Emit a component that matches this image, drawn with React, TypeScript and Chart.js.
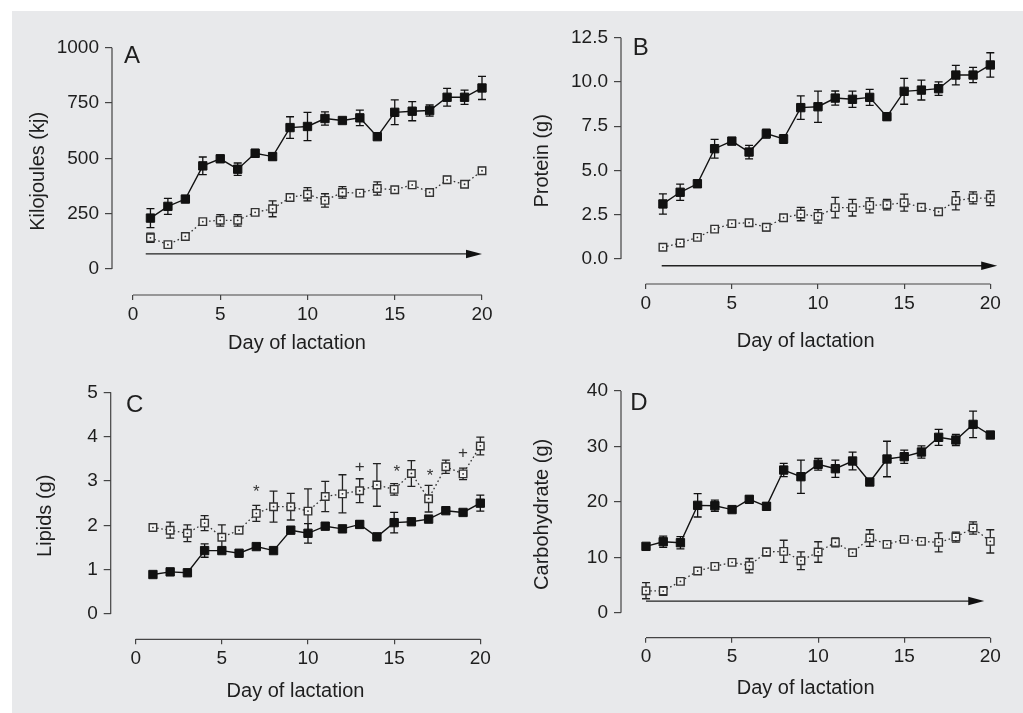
import React, { useEffect, useRef } from "react";
import { Chart, registerables } from "chart.js";

Chart.register(...registerables);

const FONT = "'Liberation Sans', Arial, Helvetica, sans-serif";
const TEXT = "#1e1e1e";
const AXIS = "#444444";
const BG = "#e8e9eb";

// ---------- data ----------
const days1to20 = [1, 2, 3, 4, 5, 6, 7, 8, 9, 10, 11, 12, 13, 14, 15, 16, 17, 18, 19, 20];
const days0to20 = [0, 1, 2, 3, 4, 5, 6, 7, 8, 9, 10, 11, 12, 13, 14, 15, 16, 17, 18, 19, 20];
const xTickValues = [0, 5, 10, 15, 20];

const kjFilled = [230, 283, 316, 466, 498, 451, 523, 508, 639, 644, 680, 671, 683, 598, 708, 713, 716, 776, 776, 818];
const kjFilledErr = [43, 36, 12, 40, 15, 28, 18, 15, 49, 64, 30, 8, 35, 0, 56, 43, 25, 40, 32, 52];
const kjOpen = [141, 110, 147, 214, 220, 220, 256, 272, 323, 338, 310, 346, 343, 364, 358, 380, 346, 403, 383, 444];
const kjOpenErr = [21, 8, 8, 8, 26, 26, 12, 36, 15, 30, 30, 26, 8, 30, 10, 10, 10, 15, 10, 15];
const kjTicks = [0, 250, 500, 750, 1000];

const proteinFilled = [3.11, 3.77, 4.25, 6.23, 6.66, 6.04, 7.08, 6.78, 8.55, 8.6, 9.09, 9.02, 9.13, 8.04, 9.47, 9.54, 9.62, 10.39, 10.39, 10.96];
const proteinFilledErr = [0.57, 0.46, 0.2, 0.53, 0.2, 0.38, 0.25, 0.25, 0.66, 0.88, 0.4, 0.46, 0.45, 0.2, 0.73, 0.56, 0.38, 0.55, 0.43, 0.69];
const proteinOpen = [0.66, 0.9, 1.22, 1.69, 2.0, 2.05, 1.79, 2.33, 2.54, 2.41, 2.9, 2.9, 3.03, 3.07, 3.18, 2.92, 2.67, 3.29, 3.45, 3.43];
const proteinOpenErr = [0, 0, 0, 0, 0, 0.1, 0.2, 0, 0.38, 0.38, 0.58, 0.47, 0.42, 0.3, 0.48, 0.2, 0.15, 0.52, 0.34, 0.42];
const proteinTicks = [0, 2.5, 5, 7.5, 10, 12.5];

const lipidFilled = [0.89, 0.95, 0.93, 1.43, 1.43, 1.37, 1.52, 1.43, 1.89, 1.82, 1.98, 1.92, 2.02, 1.74, 2.06, 2.08, 2.14, 2.33, 2.29, 2.5];
const lipidFilledErr = [0, 0, 0, 0.15, 0, 0, 0, 0, 0, 0.22, 0, 0, 0.08, 0, 0.23, 0, 0, 0, 0, 0.18];
const lipidOpen = [1.95, 1.89, 1.82, 2.05, 1.73, 1.89, 2.27, 2.42, 2.42, 2.32, 2.65, 2.71, 2.78, 2.91, 2.81, 3.17, 2.6, 3.32, 3.16, 3.79];
const lipidOpenErr = [0, 0.18, 0.19, 0.17, 0.28, 0, 0.18, 0.35, 0.3, 0.5, 0.34, 0.43, 0.27, 0.48, 0.13, 0.29, 0.3, 0.15, 0.13, 0.2];
const lipidTicks = [0, 1, 2, 3, 4, 5];
const lipidMarkText = ["*", "+", "*", "*", "+"];
const lipidMarkDays = [7, 13, 15.15, 17.08, 19];
const lipidMarkValues = [2.85, 3.34, 3.32, 3.23, 3.65];

const carbFilled = [11.97, 12.8, 12.63, 19.37, 19.3, 18.6, 20.45, 19.19, 25.74, 24.54, 26.77, 25.98, 27.37, 23.58, 27.73, 28.15, 28.99, 31.64, 31.16, 33.98, 32.06];
const carbFilledErr = [0, 1.0, 1.1, 2.1, 1.0, 0, 0.6, 0.6, 1.2, 3.0, 1.05, 1.55, 1.6, 0.6, 3.2, 1.2, 1.1, 1.45, 1.0, 2.4, 0];
const carbOpen = [3.97, 3.91, 5.65, 7.52, 8.36, 9.08, 8.48, 10.95, 11.07, 9.38, 10.95, 12.69, 10.83, 13.47, 12.33, 13.23, 12.87, 12.69, 13.65, 15.28, 12.87];
const carbOpenErr = [1.45, 0.8, 0, 0, 0.6, 0, 1.3, 0.7, 2.0, 1.6, 1.85, 0.8, 0, 1.5, 0, 0.6, 0, 1.7, 0.9, 1.1, 2.1];
const carbTicks = [0, 10, 20, 30, 40];

// arrows: [startDay, endDay, value]
const kjArrow = [0.73, 20, 68];
const proteinArrow = [0.93, 20.4, -0.38];
const carbArrow = [0, 19.65, 2.1];

// ---------- layout / style ----------
type Panel = {
  letter: string;
  yTitle: string;
  days: number[];
  filled: number[];
  filledErr: number[];
  open: number[];
  openErr: number[];
  yTicks: number[];
  decimals: number;
  arrow?: number[];
  marks?: { text: string[]; days: number[]; values: number[] };
  box: { left: number; top: number; width: number; height: number };
  axisX: number;
  axisY: number;
  topPx: number;
  rightPx: number;
  xMin: number;
  yMin: number;
  yTitlePad: number;
  xTitlePad: number;
  letterDx: number;
  letterDy: number;
};

const panels: Panel[] = [
  {
    letter: "A", yTitle: "Kilojoules (kj)", days: days1to20,
    filled: kjFilled, filledErr: kjFilledErr, open: kjOpen, openErr: kjOpenErr,
    yTicks: kjTicks, decimals: 0, arrow: kjArrow,
    box: { left: 0, top: 0, width: 511, height: 356 },
    axisX: 112, axisY: 295, topPx: 47.7, rightPx: 482, xMin: -1.203, yMin: -117.5,
    yTitlePad: 26, xTitlePad: 1, letterDx: 12, letterDy: 15.5,
  },
  {
    letter: "B", yTitle: "Protein (g)", days: days1to20,
    filled: proteinFilled, filledErr: proteinFilledErr, open: proteinOpen, openErr: proteinOpenErr,
    yTicks: proteinTicks, decimals: 1, arrow: proteinArrow,
    box: { left: 511, top: 0, width: 512, height: 356 },
    axisX: 621, axisY: 284, topPx: 37.7, rightPx: 990.3, xMin: -1.433, yMin: -1.412,
    yTitlePad: 19.7, xTitlePad: 2.3, letterDx: 11.7, letterDy: 17.3,
  },
  {
    letter: "C", yTitle: "Lipids (g)", days: days1to20,
    filled: lipidFilled, filledErr: lipidFilledErr, open: lipidOpen, openErr: lipidOpenErr,
    yTicks: lipidTicks, decimals: 0,
    marks: { text: lipidMarkText, days: lipidMarkDays, values: lipidMarkValues },
    box: { left: 0, top: 356, width: 511, height: 357 },
    axisX: 110.7, axisY: 639.3, topPx: 392.3, rightPx: 480.3, xMin: -1.451, yMin: -0.571,
    yTitlePad: 33, xTitlePad: 9.3, letterDx: 15.3, letterDy: 20,
  },
  {
    letter: "D", yTitle: "Carbohydrate (g)", days: days0to20,
    filled: carbFilled, filledErr: carbFilledErr, open: carbOpen, openErr: carbOpenErr,
    yTicks: carbTicks, decimals: 0, arrow: carbArrow,
    box: { left: 511, top: 356, width: 512, height: 357 },
    axisX: 621, axisY: 637.7, topPx: 391, rightPx: 990.3, xMin: -1.452, yMin: -4.511,
    yTitlePad: 19.7, xTitlePad: 13, letterDx: 9.3, letterDy: 19,
  },
];

function makeOverlay(p: Panel) {
  return {
    id: "overlay" + p.letter,
    beforeDatasetsDraw(chart: any) {
      const { ctx, chartArea, scales } = chart;
      const x = scales.x;
      const y = scales.y;
      ctx.save();
      // partial axis lines
      ctx.strokeStyle = AXIS;
      ctx.lineWidth = 1.2;
      ctx.beginPath();
      ctx.moveTo(chartArea.left, y.getPixelForValue(p.yTicks[0]));
      ctx.lineTo(chartArea.left, y.getPixelForValue(p.yTicks[p.yTicks.length - 1]));
      ctx.moveTo(x.getPixelForValue(xTickValues[0]), chartArea.bottom);
      ctx.lineTo(x.getPixelForValue(xTickValues[xTickValues.length - 1]), chartArea.bottom);
      ctx.stroke();

      // arrow
      if (p.arrow) {
        const [a0, a1, av] = p.arrow;
        const px0 = x.getPixelForValue(a0);
        const px1 = x.getPixelForValue(a1);
        const py = y.getPixelForValue(av);
        ctx.strokeStyle = "#222";
        ctx.fillStyle = "#111";
        ctx.lineWidth = 1.3;
        ctx.beginPath();
        ctx.moveTo(px0, py);
        ctx.lineTo(px1 - 10, py);
        ctx.stroke();
        ctx.beginPath();
        ctx.moveTo(px1, py);
        ctx.lineTo(px1 - 16, py - 4.2);
        ctx.lineTo(px1 - 16, py + 4.2);
        ctx.closePath();
        ctx.fill();
      }

      // error bars
      const drawErr = (vals: number[], errs: number[], color: string) => {
        ctx.strokeStyle = color;
        ctx.lineWidth = 1.3;
        ctx.beginPath();
        for (let i = 0; i < vals.length; i++) {
          const e = errs[i];
          if (!e) continue;
          const px = x.getPixelForValue(p.days[i]);
          const yHi = y.getPixelForValue(vals[i] + e);
          const yLo = y.getPixelForValue(vals[i] - e);
          ctx.moveTo(px, yHi);
          ctx.lineTo(px, yLo);
          ctx.moveTo(px - 4, yHi);
          ctx.lineTo(px + 4, yHi);
          ctx.moveTo(px - 4, yLo);
          ctx.lineTo(px + 4, yLo);
        }
        ctx.stroke();
      };
      drawErr(p.filled, p.filledErr, "#111");
      drawErr(p.open, p.openErr, "#222");
      ctx.restore();
    },
    afterDatasetsDraw(chart: any) {
      const { ctx, chartArea, scales } = chart;
      const x = scales.x;
      const y = scales.y;
      ctx.save();
      ctx.fillStyle = TEXT;
      ctx.font = `24px ${FONT}`;
      ctx.textAlign = "left";
      ctx.textBaseline = "alphabetic";
      ctx.fillText(p.letter, chartArea.left + p.letterDx, chartArea.top + p.letterDy);
      if (p.marks) {
        ctx.font = `17px ${FONT}`;
        ctx.textAlign = "center";
        ctx.fillStyle = "#333";
        for (let i = 0; i < p.marks.text.length; i++) {
          const t = p.marks.text[i];
          const px = x.getPixelForValue(p.marks.days[i]);
          const py = y.getPixelForValue(p.marks.values[i]);
          const shift = t === "*" ? 0.58 * 17 : 0.36 * 17;
          ctx.fillText(t, px, py + shift);
        }
      }
      ctx.restore();
    },
  };
}

function PanelChart({ p }: { p: Panel }) {
  const ref = useRef<HTMLCanvasElement>(null);
  useEffect(() => {
    if (!ref.current) return;
    const pts = (vals: number[]) => vals.map((v, i) => ({ x: p.days[i], y: v }));
    const tickFont = { family: FONT, size: 19 };
    const titleFont = { family: FONT, size: 20 };
    const chart = new Chart(ref.current, {
      type: "line",
      data: {
        datasets: [
          {
            data: pts(p.open),
            showLine: false,
            pointStyle: "circle",
            pointRadius: 0.9,
            pointBackgroundColor: "#333",
            pointBorderWidth: 0,
            clip: false,
          } as any,
          {
            data: pts(p.open),
            borderColor: "#333",
            borderWidth: 1.3,
            borderDash: [1.6, 2.6],
            pointStyle: "rect",
            pointRadius: 5.3,
            pointBackgroundColor: "#f4f4f4",
            pointBorderColor: "#333",
            pointBorderWidth: 1.4,
            tension: 0,
            clip: false,
          } as any,
          {
            data: pts(p.filled),
            borderColor: "#111",
            borderWidth: 1.4,
            pointStyle: "rect",
            pointRadius: 5.9,
            pointBackgroundColor: "#111",
            pointBorderColor: "#111",
            pointBorderWidth: 1,
            tension: 0,
            clip: false,
          } as any,
        ],
      },
      options: {
        animation: false,
        responsive: false,
        maintainAspectRatio: false,
        events: [],
        layout: {
          padding: {
            left: 0,
            top: p.topPx - p.box.top,
            right: p.box.left + p.box.width - p.rightPx,
            bottom: 0,
          },
        },
        plugins: { legend: { display: false }, tooltip: { enabled: false } },
        scales: {
          x: {
            type: "linear",
            min: p.xMin,
            max: 20,
            afterFit: (s: any) => {
              s.height = p.box.top + p.box.height - p.axisY;
            },
            afterBuildTicks: (s: any) => {
              s.ticks = xTickValues.map((v) => ({ value: v }));
            },
            grid: { drawOnChartArea: false, drawTicks: true, tickLength: 5, color: AXIS, lineWidth: 1.2 },
            border: { display: false },
            ticks: {
              font: tickFont,
              color: TEXT,
              padding: 3,
              autoSkip: false,
              maxRotation: 0,
              callback: (v: any) => String(v),
            },
            title: {
              display: true,
              text: "Day of lactation",
              font: titleFont,
              color: TEXT,
              padding: { top: 0, bottom: p.xTitlePad },
            },
          },
          y: {
            type: "linear",
            min: p.yMin,
            max: p.yTicks[p.yTicks.length - 1],
            afterFit: (s: any) => {
              s.width = p.axisX - p.box.left;
            },
            afterBuildTicks: (s: any) => {
              s.ticks = p.yTicks.map((v) => ({ value: v }));
            },
            grid: { drawOnChartArea: false, drawTicks: true, tickLength: 7, color: AXIS, lineWidth: 1.2 },
            border: { display: false },
            ticks: {
              font: tickFont,
              color: TEXT,
              padding: 6,
              autoSkip: false,
              callback: (v: any) => Number(v).toFixed(p.decimals),
            },
            title: {
              display: true,
              text: p.yTitle,
              font: titleFont,
              color: TEXT,
              padding: { top: p.yTitlePad, bottom: 0 },
            },
          },
        },
      } as any,
      plugins: [makeOverlay(p)],
    });
    return () => chart.destroy();
  }, [p]);
  return (
    <canvas
      ref={ref}
      width={p.box.width}
      height={p.box.height}
      style={{
        position: "absolute",
        left: p.box.left,
        top: p.box.top,
        width: p.box.width,
        height: p.box.height,
        display: "block",
      }}
    />
  );
}

export default function App() {
  return (
    <div style={{ position: "absolute", left: 0, top: 0, width: 1023, height: 713, background: "#ffffff", overflow: "hidden" }}>
      <div style={{ position: "absolute", left: 12, top: 11, width: 1011, height: 702, background: BG }} />
      {panels.map((p) => (
        <PanelChart key={p.letter} p={p} />
      ))}
    </div>
  );
}
